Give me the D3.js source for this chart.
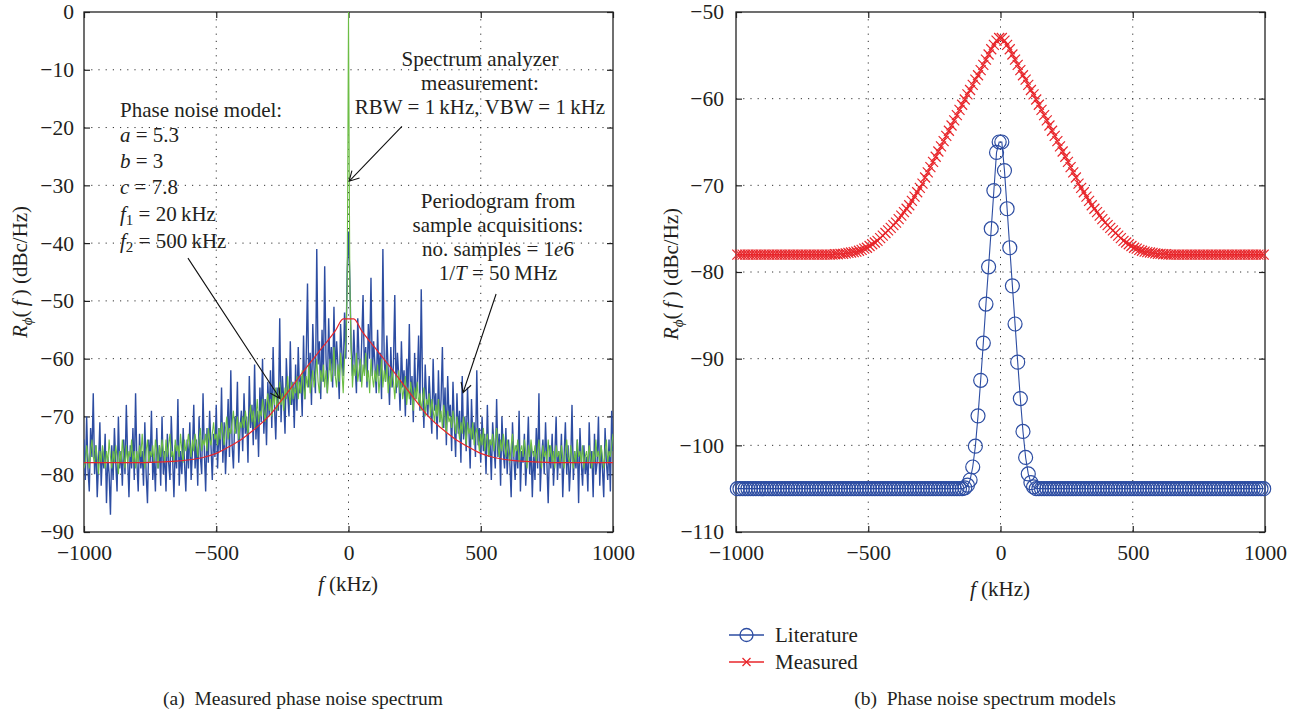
<!DOCTYPE html>
<html lang="en">
<head>
<meta charset="utf-8">
<title>Phase noise spectrum</title>
<script src="https://d3js.org/d3.v7.min.js"></script>
<style>
  body { margin: 0; background: #fff; }
  svg { font-family: "Liberation Serif", "DejaVu Serif", serif; }
  .grid line { stroke: #333; stroke-width: 1; stroke-dasharray: 1.2, 6; }
  .axis line { stroke: #222; stroke-width: 1.2; }
  .axis text { fill: #231f20; }
  .box { fill: none; stroke: #222; stroke-width: 1.3; }
  .note { font-size: 21px; fill: #231f20; }
</style>
</head>
<body>
<svg id="fig" width="1299" height="717"></svg>
<script>
// ---------- data ----------
var xTicks = [-1000, -500, 0, 500, 1000];
var yTicksA = [0, -10, -20, -30, -40, -50, -60, -70, -80, -90];
var yTicksB = [-50, -60, -70, -80, -90, -100, -110];

// (a) frequency grid, 5 kHz step
var freqA = d3.range(-1000, 1001, 5);

// periodogram from sample acquisitions (blue)
var periodogram = [
  -74, -81, -70, -79, -83, -72, -77, -66, -80, -75, -84, -78, -71, -82, -76, -79, -73, -85, -77, -80,
  -87, -75, -81, -72, -78, -83, -70, -79, -76, -82, -74, -80, -68, -77, -84, -75, -79, -72, -81, -66,
  -78, -83, -73, -79, -76, -82, -71, -80, -85, -74, -78, -69, -81, -77, -83, -72, -79, -75, -82, -70,
  -80, -76, -83, -73, -78, -81, -70, -77, -84, -75, -79, -67, -82, -76, -80, -72, -78, -83, -74, -79,
  -71, -81, -76, -68, -79, -74, -82, -70, -77, -80, -66, -76, -83, -72, -78, -69, -75, -81, -73, -77,
  -68, -79, -72, -76, -65, -78, -71, -80, -74, -67, -77, -62, -75, -79, -70, -73, -64, -78, -72, -69,
  -76, -66, -73, -70, -78, -63, -72, -68, -75, -61, -74, -69, -77, -65, -71, -60, -73, -67, -75, -64,
  -70, -62, -72, -58, -68, -74, -65, -69, -53, -71, -63, -67, -73, -60, -66, -70, -57, -68, -64, -72,
  -61, -69, -58, -66, -63, -70, -56, -67, -60, -47, -65, -59, -68, -54, -62, -66, -41, -61, -57, -67,
  -55, -64, -44, -60, -66, -53, -62, -58, -65, -51, -63, -57, -61, -67, -54, -59, -63, -52, -60, -45,
  -38, -46, -58, -63, -55, -61, -66, -53, -60, -64, -57, -49, -62, -58, -65, -54, -60, -46, -63, -57,
  -61, -66, -55, -63, -59, -67, -41, -60, -64, -56, -62, -68, -58, -65, -61, -49, -66, -59, -63, -69,
  -57, -65, -62, -70, -60, -66, -54, -68, -63, -71, -59, -67, -64, -56, -69, -48, -65, -72, -61, -67,
  -70, -63, -68, -73, -60, -69, -66, -74, -62, -71, -67, -58, -72, -65, -75, -63, -70, -68, -76, -64,
  -71, -77, -66, -73, -69, -78, -63, -74, -70, -76, -65, -72, -79, -67, -74, -71, -77, -62, -75, -72,
  -78, -70, -76, -73, -80, -68, -77, -74, -81, -71, -75, -79, -67, -77, -73, -82, -70, -76, -79, -72,
  -80, -74, -78, -84, -71, -77, -81, -75, -79, -69, -83, -76, -78, -73, -82, -77, -70, -80, -75, -84,
  -76, -81, -72, -79, -66, -83, -77, -74, -80, -71, -78, -85, -75, -79, -73, -82, -77, -70, -81, -76,
  -79, -73, -84, -77, -71, -80, -75, -83, -78, -68, -81, -76, -79, -74, -85, -72, -78, -82, -75, -80,
  -77, -83, -71, -79, -76, -84, -73, -80, -78, -70, -82, -75, -79, -84, -72, -78, -81, -74, -83, -69,
  -76
];

// spectrum analyzer measurement (green)
var analyzer = [
  -79, -78, -75, -77, -79, -76, -74, -77, -78, -75, -77, -80, -76, -78, -75, -77, -79, -76, -78, -74,
  -77, -79, -76, -78, -75, -77, -80, -76, -78, -74, -77, -79, -75, -78, -76, -77, -74, -78, -76, -79,
  -76, -78, -75, -77, -73, -77, -79, -76, -74, -78, -76, -77, -75, -78, -74, -76, -79, -75, -77, -74,
  -76, -78, -74, -77, -75, -73, -77, -76, -78, -74, -76, -75, -77, -73, -76, -78, -74, -76, -75, -73,
  -75, -77, -74, -76, -73, -75, -77, -74, -72, -76, -74, -75, -73, -76, -72, -74, -75, -73, -71, -74,
  -73, -75, -72, -74, -71, -73, -75, -72, -70, -74, -72, -73, -71, -69, -73, -72, -70, -74, -71, -72,
  -70, -72, -69, -71, -73, -70, -68, -71, -69, -72, -70, -67, -71, -69, -70, -67, -69, -71, -68, -66,
  -69, -67, -70, -66, -68, -65, -69, -67, -64, -68, -66, -69, -65, -67, -63, -66, -68, -64, -67, -65,
  -66, -63, -67, -64, -66, -62, -65, -67, -63, -65, -61, -66, -64, -62, -65, -63, -60, -64, -66, -62,
  -64, -61, -65, -62, -66, -63, -60, -64, -62, -58, -63, -65, -61, -64, -59, -62, -66, -60, -57, -48,
  0, -47, -58, -65, -61, -63, -59, -64, -62, -60, -65, -61, -63, -59, -64, -62, -66, -60, -63, -65,
  -62, -64, -61, -66, -63, -60, -65, -62, -64, -61, -66, -63, -65, -62, -64, -67, -63, -65, -62, -66,
  -64, -67, -65, -63, -68, -65, -67, -64, -66, -69, -65, -67, -64, -68, -66, -69, -67, -65, -70, -67,
  -68, -66, -70, -67, -69, -71, -68, -70, -67, -71, -69, -72, -68, -70, -73, -69, -71, -70, -72, -69,
  -71, -73, -70, -72, -74, -71, -73, -70, -72, -75, -71, -73, -72, -74, -71, -75, -73, -72, -74, -76,
  -73, -75, -72, -76, -74, -73, -77, -74, -75, -73, -76, -74, -72, -75, -77, -74, -76, -73, -75, -77,
  -74, -76, -78, -75, -73, -77, -75, -76, -74, -78, -76, -75, -77, -74, -76, -79, -75, -77, -74, -76,
  -77, -75, -78, -76, -74, -77, -79, -75, -77, -76, -78, -74, -77, -75, -78, -76, -79, -75, -77, -76,
  -78, -75, -77, -79, -76, -74, -77, -78, -75, -77, -79, -76, -78, -74, -77, -76, -78, -75, -79, -77,
  -76, -78, -75, -77, -79, -76, -78, -74, -77, -76, -78, -75, -77, -79, -76, -74, -78, -76, -77, -75,
  -73
];

// phase noise model (red), (a)
var modelF = [-1000, -900, -800, -700, -650, -600, -550, -500, -450, -400, -350, -300, -250, -200, -150, -100, -50, -20,
               20, 50, 100, 150, 200, 250, 300, 350, 400, 450, 500, 550, 600, 650, 700, 800, 900, 1000];
var modelV = [-78, -78, -78, -77.85, -77.75, -77.5, -77.1, -76.4, -75.2, -73.8, -72.0, -69.9, -67.0, -64.0, -61.0, -58.1, -55.2, -53.1,
              -53.1, -55.2, -58.1, -61.0, -64.0, -67.0, -69.9, -72.0, -73.8, -75.2, -76.4, -77.1, -77.5, -77.75, -77.85, -78, -78, -78];

// (b) frequency grid, 10 kHz step
var freqB = d3.range(-995, 1000, 10);

var literature = [
  -105, -105, -105, -105, -105, -105, -105, -105, -105, -105, -105, -105, -105, -105, -105, -105, -105,
  -105, -105, -105, -105, -105, -105, -105, -105, -105, -105, -105, -105, -105, -105, -105, -105, -105,
  -105, -105, -105, -105, -105, -105, -105, -105, -105, -105, -105, -105, -105, -105, -105, -105, -105,
  -105, -105, -105, -105, -105, -105, -105, -105, -105, -105, -105, -105, -105, -105, -105, -105, -105,
  -105, -105, -105, -105, -105, -105, -105, -105, -105, -105, -105, -105, -105, -105, -105, -105, -105,
  -105, -104.9, -104.6, -104.0, -102.5, -100.1, -96.6, -92.5, -88.2, -83.7, -79.4, -75.0, -70.6, -66.2, -65.0,
  -65.0, -68.3, -72.7, -77.2, -81.6, -86.0, -90.4, -94.6, -98.4, -101.4, -103.3, -104.3, -104.8, -105, -105,
  -105, -105, -105, -105, -105, -105, -105, -105, -105, -105, -105, -105, -105, -105, -105, -105, -105,
  -105, -105, -105, -105, -105, -105, -105, -105, -105, -105, -105, -105, -105, -105, -105, -105, -105,
  -105, -105, -105, -105, -105, -105, -105, -105, -105, -105, -105, -105, -105, -105, -105, -105, -105,
  -105, -105, -105, -105, -105, -105, -105, -105, -105, -105, -105, -105, -105, -105, -105, -105, -105,
  -105, -105, -105, -105, -105, -105, -105, -105, -105, -105, -105, -105, -105, -105, -105, -105, -105
];

var measured = [
  -78, -78, -78, -78, -78, -78, -78, -78, -78, -78, -78, -78, -78, -78, -78, -78, -78, -78, -78, -78,
  -78, -78, -78, -78, -78, -78, -78, -78, -78, -78, -78, -78, -78, -78, -78, -78, -78,
  -77.95, -77.95, -77.9, -77.9, -77.85, -77.8, -77.75, -77.7, -77.65, -77.55, -77.45, -77.3, -77.2,
  -77.0, -76.8, -76.6, -76.4, -76.1, -75.8, -75.5, -75.2, -74.9, -74.6, -74.3, -73.9, -73.5, -73.1,
  -72.7, -72.3, -71.8, -71.3, -70.8, -70.3, -69.8, -69.1, -68.5, -67.9, -67.3, -66.7, -66.1, -65.5,
  -64.9, -64.3, -63.7, -63.1, -62.5, -61.9, -61.3, -60.7, -60.1, -59.5, -59.0, -58.4, -57.8, -57.3,
  -56.7, -56.1, -55.5, -54.9, -54.3, -53.8, -53.3, -53.0,
  -53.0, -53.3, -53.8, -54.3, -54.9, -55.5, -56.1, -56.7,
  -57.3, -57.8, -58.4, -59.0, -59.5, -60.1, -60.7, -61.3, -61.9, -62.5, -63.1, -63.7, -64.3, -64.9,
  -65.5, -66.1, -66.7, -67.3, -67.9, -68.5, -69.1, -69.8, -70.3, -70.8, -71.3, -71.8, -72.3, -72.7,
  -73.1, -73.5, -73.9, -74.3, -74.6, -74.9, -75.2, -75.5, -75.8, -76.1, -76.4, -76.6, -76.8, -77.0,
  -77.2, -77.3, -77.45, -77.55, -77.65, -77.7, -77.75, -77.8, -77.85, -77.9, -77.9, -77.95, -77.95,
  -78, -78, -78, -78, -78, -78, -78, -78, -78, -78, -78, -78, -78, -78, -78, -78, -78,
  -78, -78, -78, -78, -78, -78, -78, -78, -78, -78, -78, -78, -78, -78, -78, -78, -78, -78, -78, -78
];

// annotation arrows (kHz, dB): start -> head
var arrows = [
  {f0: 202, v0: -19.8, f1: 2, v1: -29.3},
  {f0: -607, v0: -42.6, f1: -259, v1: -66.9},
  {f0: 558, v0: -48.8, f1: 433, v1: -65.9}
];

var blue = '#2d4da2', green = '#6cbd45', red = '#e8262b';

// ---------- layout ----------
var svg = d3.select('#fig');

var xA = d3.scaleLinear().domain([-1000, 1000]).range([84, 613]);
var yA = d3.scaleLinear().domain([-90, 0]).range([532, 12]);
var xB = d3.scaleLinear().domain([-1000, 1000]).range([736, 1265]);
var yB = d3.scaleLinear().domain([-110, -50]).range([532, 12]);

function frame(x, y, yt, ypad) {
  var g = svg.append('g');
  var x0 = x.range()[0], x1 = x.range()[1], yb = y.range()[0], yt0 = y.range()[1];

  var grid = g.append('g').attr('class', 'grid');
  grid.selectAll('.gx').data(xTicks.slice(1, -1)).join('line')
    .attr('x1', d => x(d)).attr('x2', d => x(d)).attr('y1', yt0).attr('y2', yb);
  grid.selectAll('.gy').data(yt.slice(1, -1)).join('line')
    .attr('class', 'gy')
    .attr('x1', x0).attr('x2', x1).attr('y1', d => y(d)).attr('y2', d => y(d));

  function ax(a, tr, lab, pad) {
    var s = g.append('g').attr('class', 'axis').attr('transform', tr)
      .call(a.tickSizeInner(-6).tickSizeOuter(0).tickPadding(pad)
        .tickFormat(lab ? d3.format('') : ''));
    s.attr('font-family', null).attr('font-size', 21.5);
    s.select('.domain').remove();
  }
  ax(d3.axisBottom(x).tickValues(xTicks), 'translate(0,' + yb + ')', true, 13);
  ax(d3.axisTop(x).tickValues(xTicks), 'translate(0,' + yt0 + ')', false, 0);
  ax(d3.axisLeft(y).tickValues(yt), 'translate(' + x0 + ',0)', true, ypad);
  ax(d3.axisRight(y).tickValues(yt), 'translate(' + x1 + ',0)', false, 0);

  g.append('rect').attr('class', 'box')
    .attr('x', x0).attr('y', yt0).attr('width', x1 - x0).attr('height', yb - yt0);
  return g;
}

function ylabel(cx, cy) {
  var t = svg.append('text').attr('class', 'note')
    .attr('transform', 'translate(' + cx + ',' + cy + ') rotate(-90)')
    .attr('text-anchor', 'middle').attr('dy', '0.35em');
  t.append('tspan').attr('font-style', 'italic').text('R');
  t.append('tspan').attr('font-style', 'italic').attr('font-size', 15).attr('dy', 5).text('\u03d5');
  t.append('tspan').attr('dy', -5).text('(\u2009');
  t.append('tspan').attr('font-style', 'italic').text('f');
  t.append('tspan').text('\u2009)  (dBc/Hz)');
}

function xlabel(cx, y) {
  var t = svg.append('text').attr('class', 'note')
    .attr('x', cx).attr('y', y).attr('text-anchor', 'middle');
  t.append('tspan').attr('font-style', 'italic').text('f');
  t.append('tspan').text('  (kHz)');
}

// ---------- (a) ----------
frame(xA, yA, yTicksA, 10);

svg.append('clipPath').attr('id', 'clipA').append('rect')
  .attr('x', 84).attr('y', 12).attr('width', 529).attr('height', 520);

var lineA = d3.line().x((d, i) => xA(freqA[i])).y(d => yA(d));
var plotA = svg.append('g').attr('clip-path', 'url(#clipA)');
plotA.append('path').datum(periodogram).attr('d', lineA)
  .attr('fill', 'none').attr('stroke', blue).attr('stroke-width', 1.4);
plotA.append('path').datum(analyzer).attr('d', lineA)
  .attr('fill', 'none').attr('stroke', green).attr('stroke-width', 1.1);
plotA.append('path').datum(modelV)
  .attr('d', d3.line().x((d, i) => xA(modelF[i])).y(d => yA(d)).curve(d3.curveMonotoneX))
  .attr('fill', 'none').attr('stroke', red).attr('stroke-width', 1.2);

// arrows
arrows.forEach(function(a) {
  var sx = xA(a.f0), sy = yA(a.v0), ex = xA(a.f1), ey = yA(a.v1);
  var th = Math.atan2(sy - ey, sx - ex), L = 11, ph = 0.5;
  svg.append('path')
    .attr('d', 'M' + sx + ',' + sy + 'L' + ex + ',' + ey +
      'M' + (ex + L * Math.cos(th + ph)) + ',' + (ey + L * Math.sin(th + ph)) +
      'L' + ex + ',' + ey +
      'L' + (ex + L * Math.cos(th - ph)) + ',' + (ey + L * Math.sin(th - ph)))
    .attr('fill', 'none').attr('stroke', '#111').attr('stroke-width', 1.1);
});

// text notes
function lines(x, anchor, rows) {
  rows.forEach(function(r) {
    var t = svg.append('text').attr('class', 'note')
      .attr('x', x).attr('y', r.y).attr('text-anchor', anchor);
    r.parts.forEach(function(p) {
      var s = t.append('tspan').text(p.t);
      if (p.i) s.attr('font-style', 'italic');
      if (p.sub) s.attr('font-size', 15).attr('dy', 4);
      if (p.up) s.attr('dy', -4);
    });
  });
}

lines(120, 'start', [
  {y: 117, parts: [{t: 'Phase noise model:'}]},
  {y: 142, parts: [{t: 'a', i: 1}, {t: ' = 5.3'}]},
  {y: 168, parts: [{t: 'b', i: 1}, {t: ' = 3'}]},
  {y: 194, parts: [{t: 'c', i: 1}, {t: ' = 7.8'}]},
  {y: 221, parts: [{t: 'f', i: 1}, {t: '1', sub: 1}, {t: ' = 20\u2009kHz', up: 1}]},
  {y: 248, parts: [{t: 'f', i: 1}, {t: '2', sub: 1}, {t: ' = 500\u2009kHz', up: 1}]}
]);

lines(480, 'middle', [
  {y: 66, parts: [{t: 'Spectrum analyzer'}]},
  {y: 90, parts: [{t: 'measurement:'}]},
  {y: 114, parts: [{t: 'RBW = 1\u2009kHz, VBW = 1\u2009kHz'}]}
]);

lines(498, 'middle', [
  {y: 208, parts: [{t: 'Periodogram from'}]},
  {y: 232, parts: [{t: 'sample acquisitions:'}]},
  {y: 256, parts: [{t: 'no. samples = 1'}, {t: 'e', i: 1}, {t: '6'}]},
  {y: 280, parts: [{t: '1/'}, {t: 'T', i: 1}, {t: ' = 50\u2009MHz'}]}
]);

ylabel(20, 272);
xlabel(348, 591);

// ---------- (b) ----------
frame(xB, yB, yTicksB, 12);

var lineB = d3.line().x((d, i) => xB(freqB[i])).y(d => yB(d));
var plotB = svg.append('g');

plotB.append('path').datum(literature).attr('d', lineB)
  .attr('fill', 'none').attr('stroke', blue).attr('stroke-width', 1.1);
plotB.selectAll('.lit').data(literature).join('circle')
  .attr('cx', (d, i) => xB(freqB[i])).attr('cy', d => yB(d)).attr('r', 7)
  .attr('fill', 'none').attr('stroke', blue).attr('stroke-width', 1.2);

var xMark = 'M-5,-5L5,5M-5,5L5,-5';
plotB.append('path').datum(measured).attr('d', lineB)
  .attr('fill', 'none').attr('stroke', red).attr('stroke-width', 1.1);
plotB.selectAll('.mea').data(measured).join('path')
  .attr('transform', (d, i) => 'translate(' + xB(freqB[i]) + ',' + yB(d) + ')')
  .attr('d', xMark).attr('fill', 'none').attr('stroke', red).attr('stroke-width', 1.2);

ylabel(671, 274);
xlabel(1000, 596);

// legend
var legend = svg.append('g');
var lg = [{name: 'Literature', c: blue, y: 635}, {name: 'Measured', c: red, y: 662}];
lg.forEach(function(d, k) {
  legend.append('line').attr('x1', 729).attr('x2', 764).attr('y1', d.y).attr('y2', d.y)
    .attr('stroke', d.c).attr('stroke-width', 1.3);
  if (k === 0) {
    legend.append('circle').attr('cx', 746.5).attr('cy', d.y).attr('r', 6.5)
      .attr('fill', 'none').attr('stroke', d.c).attr('stroke-width', 1.3);
  } else {
    legend.append('path').attr('transform', 'translate(746.5,' + d.y + ')').attr('d', 'M-4,-4L4,4M-4,4L4,-4')
      .attr('fill', 'none').attr('stroke', d.c).attr('stroke-width', 1.3);
  }
  legend.append('text').attr('class', 'note').attr('x', 775).attr('y', d.y).attr('dy', '0.35em')
    .text(d.name);
});

// captions
svg.append('text').attr('class', 'note').attr('x', 303).attr('y', 705)
  .attr('text-anchor', 'middle').style('font-size', '19.5px')
  .text('(a)\u2002Measured phase noise spectrum');
svg.append('text').attr('class', 'note').attr('x', 985).attr('y', 705)
  .attr('text-anchor', 'middle').style('font-size', '19.5px')
  .text('(b)\u2002Phase noise spectrum models');
</script>
</body>
</html>
